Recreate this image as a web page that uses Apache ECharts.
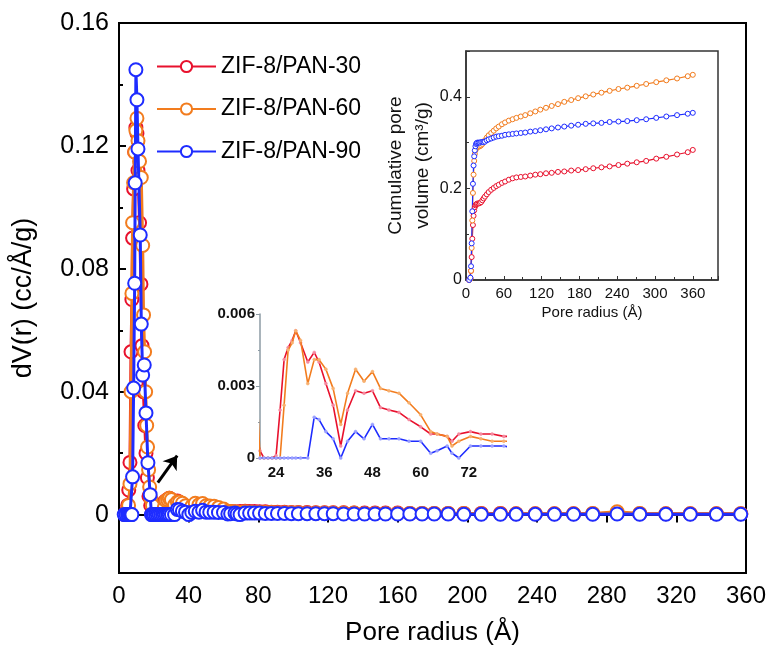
<!DOCTYPE html>
<html>
<head>
<meta charset="utf-8">
<script src="https://cdn.jsdelivr.net/npm/echarts@6/dist/echarts.min.js"></script>
<style>
html,body{margin:0;padding:0;background:#fff;}
#chart{width:777px;height:662px;}
</style>
</head>
<body>
<div id="chart"></div>
<script>
// ---------- data ----------
const seriesNames = ['ZIF-8/PAN-30', 'ZIF-8/PAN-60', 'ZIF-8/PAN-90'];

// peak region (pore radius in Å, dV(r))
const peakR30 = [3.5, 4.3, 5.0, 5.6, 6.3, 6.9, 7.4, 7.8, 8.4, 9.0, 9.7, 10.3, 10.9, 11.8, 12.6, 13.2, 14.0, 14.8, 15.5, 16.3, 17.2, 18.2];
const peakV30 = [0, 0.001, 0.003, 0.008, 0.017, 0.053, 0.070, 0.090, 0.106, 0.118, 0.126, 0.124, 0.112, 0.095, 0.075, 0.055, 0.040, 0.029, 0.020, 0.012, 0.006, 0.003];
const peakR60 = [3.8, 4.6, 5.5, 6.3, 6.9, 7.4, 7.8, 8.4, 9.0, 9.7, 10.3, 10.9, 11.8, 12.8, 13.6, 14.1, 14.7, 15.3, 15.9, 16.4, 17.0, 17.6, 18.4];
const peakV60 = [0, 0.001, 0.003, 0.010, 0.040, 0.072, 0.095, 0.108, 0.118, 0.125, 0.129, 0.1217, 0.115, 0.1097, 0.0876, 0.065, 0.053, 0.040, 0.029, 0.022, 0.0146, 0.009, 0.005];
const peakR90 = [3.0, 4.0, 5.0, 5.5, 6.3, 6.9, 7.4, 7.8, 8.4, 9.0, 9.3, 9.7, 10.3, 10.9, 12.2, 12.8, 13.6, 14.5, 15.5, 16.6, 17.9, 18.6];
const peakV90 = [0, 0, 0, 0, 0, 0, 0, 0.0123, 0.0412, 0.0753, 0.108, 0.1448, 0.135, 0.119, 0.091, 0.062, 0.0454, 0.0487, 0.0331, 0.0169, 0.0065, 0];

// tail region, shared radii
const tailR = [19.2, 20, 21, 22, 23, 24, 25, 26, 27, 28, 28.9, 30.1, 31.9, 33.5, 34.7, 36.4, 38.2, 40.1, 41.8, 43.8,
  45.9, 48, 50, 52.1, 54.6, 57.1, 60, 62.5, 64.1, 66.6, 67.8, 69.5, 72.4, 75, 77.8, 80.7, 84, 87.5, 91, 95,
  99, 103, 108, 113, 118, 123, 129, 135, 141, 147, 153, 160, 167, 174, 181, 189, 198, 208, 219, 228,
  239, 250, 261, 272, 286, 299, 314, 328, 343, 357];
const tailV30 = [0.0010, 0.0003, 0, 0, 0, 0.0001, 0.0020, 0.0041, 0.0046, 0.0049, 0.0053, 0.0048, 0.0040, 0.0044, 0.0040, 0.0031, 0.0022, 0.0005, 0.0020, 0.0028,
  0.0027, 0.0028, 0.0021, 0.0020, 0.0019, 0.0016, 0.0013, 0.0010, 0.0010, 0.0009, 0.0007, 0.0010, 0.0011, 0.0010, 0.0010, 0.0009, 0.0009, 0.0008, 0.0008, 0.0008,
  0.0007, 0.0007, 0.0007, 0.0006, 0.0006, 0.0006, 0.0006, 0.0005, 0.0005, 0.0005, 0.0005, 0.0005, 0.0004, 0.0004, 0.0004, 0.0004, 0.0004, 0.0004, 0.0004, 0.0003,
  0.0003, 0.0003, 0.0003, 0.0003, 0.0005, 0.0003, 0.0003, 0.0003, 0.0003, 0.0003];
const tailV60 = [0.0030, 0, 0, 0, 0, 0, 0, 0.0022, 0.0045, 0.0048, 0.0053, 0.0049, 0.0031, 0.0041, 0.0041, 0.0037, 0.0029, 0.0014, 0.0027, 0.0037,
  0.0032, 0.0036, 0.0029, 0.0028, 0.0027, 0.0023, 0.0018, 0.0011, 0.0010, 0.0009, 0.0005, 0.0007, 0.0009, 0.0008, 0.0007, 0.0007, 0.0007, 0.0007, 0.0006, 0.0006,
  0.0006, 0.0006, 0.0005, 0.0005, 0.0005, 0.0005, 0.0005, 0.0005, 0.0004, 0.0004, 0.0004, 0.0004, 0.0004, 0.0004, 0.0004, 0.0004, 0.0004, 0.0003, 0.0003, 0.0003,
  0.0003, 0.0003, 0.0003, 0.0004, 0.0009, 0.0004, 0.0003, 0.0003, 0.0003, 0.0003];
const tailV90 = [0, 0, 0, 0, 0, 0, 0, 0, 0, 0, 0, 0, 0, 0.0017, 0.0016, 0.0011, 0.0008, 0, 0.0007, 0.0011,
  0.0008, 0.0014, 0.0008, 0.0008, 0.0008, 0.0007, 0.0007, 0.0002, 0.0003, 0.0005, 0.0002, 0, 0.0005, 0.0005, 0.0005, 0.0005, 0.0004, 0.0004, 0.0004, 0.0004,
  0.0003, 0.0003, 0.0003, 0.0003, 0.0003, 0.0003, 0.0002, 0.0002, 0.0002, 0.0002, 0.0002, 0.0002, 0.0002, 0.0002, 0.0002, 0.0002, 0.0001, 0.0001, 0.0001, 0.0001,
  0.0001, 0.0001, 0.0001, 0.0001, 0.0002, 0.0001, 0.0001, 0.0001, 0.0001, 0.0001];

// cumulative pore volume (inset)
const cumR = [5, 7, 8, 9, 10, 11, 12, 13, 14, 15, 16, 17, 18, 20, 22, 24, 26, 28, 30, 33, 36, 40, 44, 48, 52, 57, 62, 68, 74, 80,
  87, 94, 102, 110, 118, 127, 136, 146, 156, 167, 178, 190, 202, 215, 228, 242, 256, 271, 286, 302, 318, 335, 352, 360];
const cum30 = [0, 0.004, 0.02, 0.05, 0.09, 0.12, 0.14, 0.152, 0.159, 0.163, 0.165, 0.166, 0.167, 0.167, 0.168, 0.170, 0.174, 0.178, 0.182, 0.187,
  0.192, 0.197, 0.201, 0.205, 0.208, 0.212, 0.215, 0.219, 0.222, 0.224, 0.225, 0.226, 0.228, 0.230, 0.231, 0.233, 0.234, 0.236, 0.237, 0.239,
  0.240, 0.242, 0.244, 0.246, 0.248, 0.251, 0.254, 0.257, 0.260, 0.265, 0.269, 0.274, 0.279, 0.284];
const cum60 = [0, 0.003, 0.02, 0.07, 0.13, 0.19, 0.23, 0.26, 0.275, 0.283, 0.287, 0.289, 0.290, 0.291, 0.292, 0.294, 0.297, 0.301, 0.305, 0.311,
  0.316, 0.321, 0.326, 0.331, 0.335, 0.340, 0.344, 0.348, 0.351, 0.354, 0.357, 0.360, 0.364, 0.368, 0.372, 0.376, 0.380, 0.384, 0.389, 0.393,
  0.397, 0.401, 0.405, 0.409, 0.413, 0.417, 0.420, 0.424, 0.428, 0.432, 0.436, 0.440, 0.445, 0.448];
const cum90 = [0, 0.005, 0.03, 0.08, 0.15, 0.21, 0.25, 0.27, 0.283, 0.292, 0.297, 0.299, 0.300, 0.300, 0.300, 0.301, 0.301, 0.301, 0.302, 0.305,
  0.307, 0.309, 0.311, 0.313, 0.314, 0.315, 0.317, 0.318, 0.319, 0.320, 0.321, 0.322, 0.324, 0.325, 0.327, 0.329, 0.331, 0.333, 0.335, 0.337,
  0.339, 0.341, 0.342, 0.343, 0.345, 0.346, 0.347, 0.349, 0.351, 0.354, 0.357, 0.360, 0.363, 0.365];

const mainYTicks = [0, 0.04, 0.08, 0.12, 0.16];
const mainYMinor = [0.02, 0.06, 0.10, 0.14];
const insetXTicks = [24, 36, 48, 60, 72];

// ---------- build ----------
const COLORS = ['#e8112d', '#f27c1e', '#1e2cff'];
const LIGHT = ['#f58aa0', '#f7b070', '#9aa0ff'];
const FONT = 'Liberation Sans, Arial, sans-serif';

function zip(r, v) { return r.map((x, i) => [x, v[i]]); }
const peaks = [zip(peakR30, peakV30), zip(peakR60, peakV60), zip(peakR90, peakV90)];
const tails = [zip(tailR, tailV30), zip(tailR, tailV60), zip(tailR, tailV90)];
const cums = [zip(cumR, cum30), zip(cumR, cum60), zip(cumR, cum90)];

const series = [];
for (let k = 0; k < 3; k++) {
  const s = {
    name: seriesNames[k], type: 'line', xAxisIndex: 0, yAxisIndex: 0,
    data: peaks[k].concat(tails[k]),
    symbol: 'circle', symbolSize: 13, showAllSymbol: true,
    color: COLORS[k],
    itemStyle: { color: '#fff', borderColor: COLORS[k], borderWidth: 2 },
    lineStyle: { color: COLORS[k], width: 3 },
    z: 3 + k
  };
  series.push(s);
}
// arrow annotation (drawn through the main axes)
series.push({
  name: 'arrow', type: 'lines', coordinateSystem: 'cartesian2d', xAxisIndex: 0, yAxisIndex: 0,
  silent: true, z: 10,
  symbol: ['none', 'arrow'], symbolSize: 13,
  lineStyle: { color: '#000', width: 3, opacity: 1 },
  data: [{ coords: [[22.3, 0.0104], [33.4, 0.0192]] }]
});
for (let k = 0; k < 3; k++) {
  series.push({
    name: seriesNames[k] + ' cum', type: 'line', xAxisIndex: 1, yAxisIndex: 2,
    data: cums[k], symbol: 'circle', symbolSize: 5, showAllSymbol: true,
    color: COLORS[k],
    itemStyle: { color: '#fff', borderColor: COLORS[k], borderWidth: 1 },
    lineStyle: { color: COLORS[k], width: 1.2 }, z: 3
  });
}
for (let k = 0; k < 3; k++) {
  series.push({
    name: seriesNames[k] + ' zoom', type: 'line', xAxisIndex: 2, yAxisIndex: 3,
    data: tails[k], symbol: 'circle', symbolSize: 3, showAllSymbol: true, clip: true,
    color: COLORS[k],
    itemStyle: { color: LIGHT[k], borderColor: LIGHT[k], borderWidth: 0.5 },
    lineStyle: { color: COLORS[k], width: 1.6 }, z: 3 + k
  });
}

const option = {
  animation: false,
  backgroundColor: '#fff',
  textStyle: { fontFamily: FONT },
  legend: {
    data: seriesNames, orient: 'vertical', left: 156, top: 55,
    itemWidth: 59, itemHeight: 14, itemGap: 19.5, padding: 0,
    textStyle: { fontSize: 23, color: '#000', fontFamily: FONT },
    selectedMode: false
  },
  grid: [
    { left: 119, top: 23, width: 627, height: 550, show: true, borderColor: '#000', borderWidth: 2, backgroundColor: 'transparent' },
    { left: 466, top: 51, width: 252, height: 229, show: true, borderColor: '#333', borderWidth: 1.5, backgroundColor: 'transparent' },
    { left: 260, top: 314, width: 245, height: 144 }
  ],
  xAxis: [
    {
      gridIndex: 0, type: 'value', min: 0, max: 360, interval: 40,
      name: 'Pore radius (Å)', nameLocation: 'middle', nameGap: 47,
      nameTextStyle: { fontSize: 26, color: '#000', fontFamily: FONT },
      axisLine: { show: true, lineStyle: { color: '#000', width: 2 } },
      axisTick: { show: true, inside: false, length: 8, lineStyle: { color: '#000', width: 2 } },
      minorTick: { show: true, splitNumber: 2, length: 5, lineStyle: { color: '#000', width: 2 } },
      axisLabel: { fontSize: 24, color: '#000', margin: 11, fontFamily: FONT },
      splitLine: { show: false }
    },
    {
      gridIndex: 1, type: 'value', min: 0, max: 400, interval: 60,
      name: 'Pore radius (Å)', nameLocation: 'middle', nameGap: 25,
      nameTextStyle: { fontSize: 15, color: '#111', fontFamily: FONT },
      axisLine: { show: true, lineStyle: { color: '#333', width: 1.5 } },
      axisTick: { show: true, inside: true, length: 4, lineStyle: { color: '#333' } },
      minorTick: { show: true, splitNumber: 2, length: 3, lineStyle: { color: '#333' } },
      axisLabel: { fontSize: 15, color: '#111', margin: 6, showMaxLabel: false, fontFamily: FONT },
      splitLine: { show: false }
    },
    {
      gridIndex: 2, type: 'value', min: 20, max: 81,
      axisLine: { show: false },
      axisTick: { show: false },
      axisLabel: { fontSize: 15, fontWeight: 'bold', color: '#111', margin: 7, customValues: insetXTicks, fontFamily: FONT },
      splitLine: { show: false }
    }
  ],
  yAxis: [
    {
      gridIndex: 0, type: 'value', min: -0.019, max: 0.16, position: 'left',
      name: 'dV(r) (cc/Å/g)', nameLocation: 'middle', nameGap: 82,
      nameTextStyle: { fontSize: 27, color: '#000', fontFamily: FONT },
      axisLine: { show: true, lineStyle: { color: '#000', width: 2 } },
      axisTick: { show: true, inside: true, length: 7, customValues: mainYTicks, lineStyle: { color: '#000', width: 2 } },
      axisLabel: { fontSize: 25, color: '#000', margin: 10, customValues: mainYTicks,
        formatter: v => (v === 0 ? '0' : String(v)), fontFamily: FONT },
      splitLine: { show: false }
    },
    {
      gridIndex: 0, type: 'value', min: -0.019, max: 0.16, position: 'left', offset: 0,
      axisLine: { show: false },
      axisTick: { show: true, inside: true, length: 4, customValues: mainYMinor, lineStyle: { color: '#000', width: 2 } },
      axisLabel: { show: false },
      splitLine: { show: false }
    },
    {
      gridIndex: 1, type: 'value', min: 0, max: 0.5, interval: 0.2,
      name: 'Cumulative pore\nvolume (cm³/g)', nameLocation: 'middle', nameGap: 29,
      nameTextStyle: { fontSize: 19, color: '#111', lineHeight: 27, fontFamily: FONT },
      axisLine: { show: true, lineStyle: { color: '#333', width: 1.5 } },
      axisTick: { show: true, inside: true, length: 4, lineStyle: { color: '#333' } },
      minorTick: { show: true, splitNumber: 2, length: 3, lineStyle: { color: '#333' } },
      axisLabel: { fontSize: 16, color: '#111', margin: 4, showMaxLabel: false,
        formatter: v => (v === 0 ? '0' : v.toFixed(1)), fontFamily: FONT },
      splitLine: { show: false }
    },
    {
      gridIndex: 2, type: 'value', min: 0, max: 0.006, interval: 0.003,
      axisLine: { show: true, lineStyle: { color: '#8d9ba5', width: 1.5 } },
      axisTick: { show: true, inside: false, length: 4, lineStyle: { color: '#8d9ba5' } },
      minorTick: { show: true, splitNumber: 2, length: 2, lineStyle: { color: '#8d9ba5' } },
      axisLabel: { fontSize: 15, fontWeight: 'bold', color: '#111', margin: 5,
        formatter: v => (v === 0 ? '0' : v.toFixed(3)), fontFamily: FONT },
      splitLine: { show: false }
    }
  ],
  series: series
};

const chart = echarts.init(document.getElementById('chart'), null, { renderer: 'canvas' });
chart.setOption(option);
</script>
</body>
</html>
